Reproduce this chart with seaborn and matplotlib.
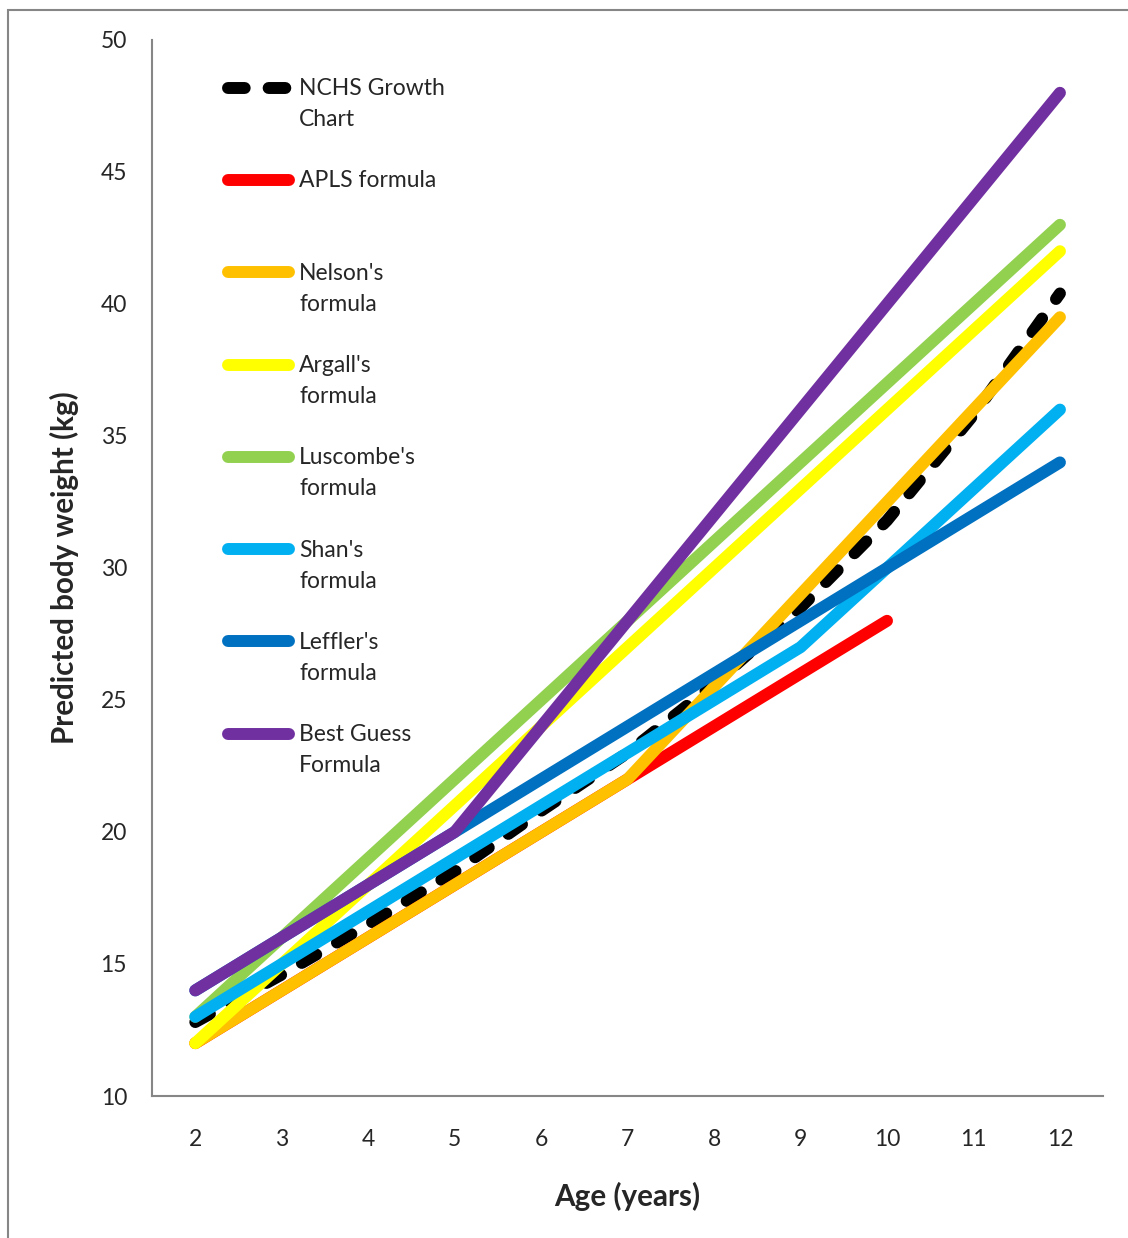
import numpy as np
import pandas as pd
import matplotlib
matplotlib.use("Agg")
import matplotlib.pyplot as plt
from matplotlib.legend_handler import HandlerLine2D
from matplotlib.patches import Rectangle
import seaborn as sns

ages = [2, 3, 4, 5, 6, 7, 8, 9, 10, 11, 12]
nchs = [12.8, 14.6, 16.5, 18.5, 20.8, 23.0, 25.6, 28.5, 31.8, 35.8, 40.4]
apls = [12, 14, 16, 18, 20, 22, 24, 26, 28, None, None]
nelson = [12, 14, 16, 18, 20, 22, 25.5, 29, 32.5, 36, 39.5]
argall = [12, 15, 18, 21, 24, 27, 30, 33, 36, 39, 42]
luscombe = [13, 16, 19, 22, 25, 28, 31, 34, 37, 40, 43]
shan = [13, 15, 17, 19, 21, 23, 25, 27, 30, 33, 36]
leffler = [14, 16, 18, 20, 22, 24, 26, 28, 30, 32, 34]
best_guess = [14, 16, 18, 20, 24, 28, 32, 36, 40, 44, 48]

series = [
    ("NCHS Growth\nChart", nchs, "#000000"),
    ("APLS formula\n ", apls, "#FF0000"),
    ("Nelson's\nformula", nelson, "#FFC000"),
    ("Argall's\nformula", argall, "#FFFF00"),
    ("Luscombe's\nformula", luscombe, "#92D050"),
    ("Shan's\nformula", shan, "#00B0F0"),
    ("Leffler's\nformula", leffler, "#0070C0"),
    ("Best Guess\nFormula", best_guess, "#7030A0"),
]

sns.set_style("white")
plt.rcParams['font.family'] = ['Lato', 'DejaVu Sans']

FS = 16.5
LW = 8.6
LEG_SHIFT = 12.2  # points, moves legend line up to the first text line


class FirstLineHandler(HandlerLine2D):
    # put the legend line next to the first line of a two-line label
    def create_artists(self, legend, orig_handle, xdescent, ydescent,
                       width, height, fontsize, trans):
        artists = super().create_artists(legend, orig_handle, xdescent, ydescent,
                                         width, height, fontsize, trans)
        for a in artists:
            a.set_ydata(np.asarray(a.get_ydata(), dtype=float) + LEG_SHIFT)
        return artists


fig = plt.figure(figsize=(11.28, 12.38), dpi=100)
ax = fig.add_axes([0.1348, 0.1147, 0.978 - 0.1348, 0.9677 - 0.1147])

handles = []
for label, vals, color in series:
    df = pd.DataFrame({"age": ages, "weight": vals}).dropna()
    dashed = label.startswith("NCHS")
    sns.lineplot(data=df, x="age", y="weight", color=color, linewidth=LW, ax=ax,
                 label=label, legend=False)
    ln = ax.lines[-1]
    ln.set_solid_capstyle("round")
    ln.set_solid_joinstyle("round")
    if dashed:
        ln.set_linestyle((0, (1.4, 2.0)))
        ln.set_dash_capstyle("round")
    handles.append(ln)

ax.set_xlim(1.5, 12.5)
ax.set_ylim(10, 50)
ax.set_xticks(ages)
ax.set_yticks([10, 15, 20, 25, 30, 35, 40, 45, 50])
ax.tick_params(axis="x", length=0, pad=24, labelsize=FS)
ax.tick_params(axis="y", length=0, pad=18, labelsize=FS)
for s in ["top", "right"]:
    ax.spines[s].set_visible(False)
for s in ["left", "bottom"]:
    ax.spines[s].set_color("#868686")
    ax.spines[s].set_linewidth(1.5)

ax.set_xlabel("Age (years)", fontsize=21.3, fontweight="bold", labelpad=23)
ax.set_ylabel("Predicted body weight (kg)", fontsize=21.3, fontweight="bold", labelpad=15.7)

leg = ax.legend(handles=handles, labels=[s[0] for s in series],
                handler_map={h: FirstLineHandler() for h in handles},
                loc="upper left", bbox_to_anchor=(0.08, 0.964), frameon=False,
                fontsize=FS, handlelength=2.65, handletextpad=0.45,
                labelspacing=1.75, borderpad=0, borderaxespad=0)
for t in leg.get_texts():
    t.set_linespacing(1.6)

fig.add_artist(Rectangle((0.0071, -0.05), 1.1, 0.9919 + 0.05,
                         transform=fig.transFigure, fill=False,
                         edgecolor="#868686", linewidth=1.5))

plt.savefig("out.png", dpi=100)
plt.close()
